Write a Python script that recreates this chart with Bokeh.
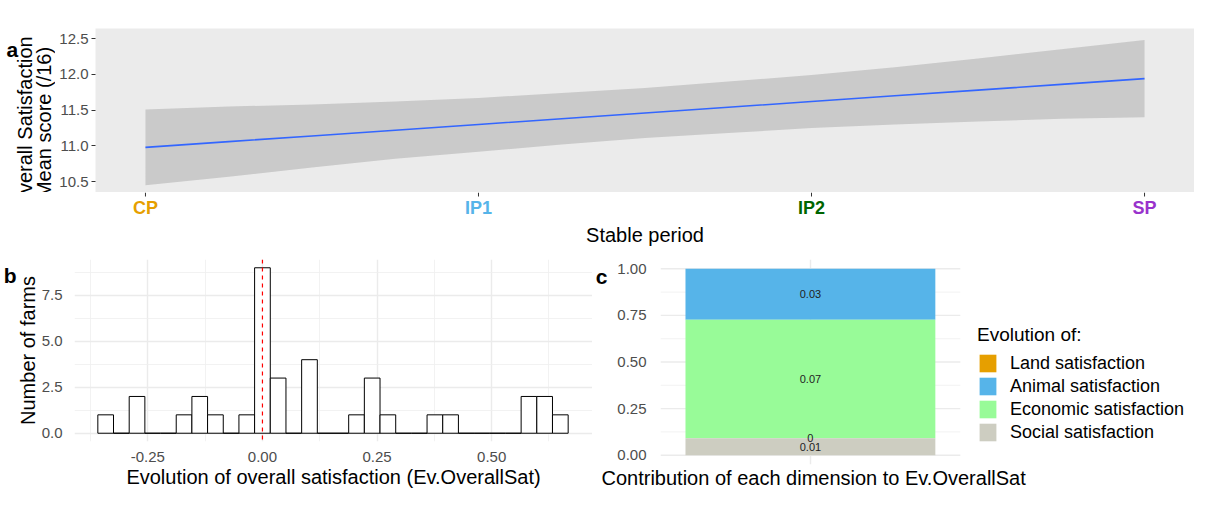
import numpy as np
from bokeh.plotting import figure
from bokeh.models import (Range1d, FixedTicker, Span, Legend, LegendItem, Title,
                          NumeralTickFormatter, LinearAxis, CustomJSTickFormatter)
from bokeh.core.properties import value
from bokeh.layouts import column, row
from bokeh.embed import file_html
from bokeh.resources import INLINE

FONT = "Liberation Sans"

# ---------------- data ----------------
# panel a : smoothed overall satisfaction by stable period
periods = ["CP", "IP1", "IP2", "SP"]
period_colors = ["#E69F00", "#56B4E9", "#006400", "#9932CC"]
smooth_x = [1.0, 1.25, 1.5, 1.75, 2.0, 2.25, 2.5, 2.75, 3.0, 3.25, 3.5, 3.75, 4.0]
smooth_fit = [10.98, 11.06, 11.14, 11.22, 11.30, 11.38, 11.46, 11.54, 11.62, 11.70, 11.78, 11.86, 11.94]
smooth_lo = [10.45, 10.57, 10.70, 10.82, 10.92, 11.02, 11.11, 11.18, 11.25, 11.30, 11.34, 11.38, 11.40]
smooth_hi = [11.51, 11.55, 11.58, 11.62, 11.67, 11.74, 11.81, 11.90, 11.99, 12.10, 12.22, 12.35, 12.48]
a_yticks = [10.5, 11.0, 11.5, 12.0, 12.5]
a_ytitle = ["Overall Satisfaction", "Mean score (/16)"]

# panel b : histogram of Ev.OverallSat (30 bins)
bin_width = 0.0342
first_bin_center = -0.342
hist_counts = [1, 0, 2, 0, 0, 1, 2, 1, 0, 1, 9, 3, 0, 4, 0, 0, 1, 3, 1, 0,
               0, 1, 1, 0, 0, 0, 0, 2, 2, 1]
b_xticks = [-0.25, 0.0, 0.25, 0.50]
b_xminor = [-0.375, -0.125, 0.125, 0.375, 0.625]
b_yticks = [0.0, 2.5, 5.0, 7.5]
b_yminor = [1.25, 3.75, 6.25, 8.75]

# panel c : contribution of each dimension
dimensions = ["Land satisfaction", "Animal satisfaction", "Economic satisfaction", "Social satisfaction"]
dim_colors = ["#E69F00", "#56B4E9", "#98FB98", "#CDCDC1"]
contrib = [0.0, 0.03, 0.07, 0.01]
contrib_labels = ["0", "0.03", "0.07", "0.01"]
c_yticks = [0.0, 0.25, 0.50, 0.75, 1.00]
c_yminor = [0.125, 0.375, 0.625, 0.875]

TICK_COL = "#4D4D4D"
GRID_MAJ = "#EBEBEB"
GRID_MIN = "#EFEFEF"


def style_axis(ax, size="15px"):
    ax.major_label_text_font = FONT
    ax.major_label_text_font_size = size
    ax.major_label_text_color = TICK_COL
    ax.axis_label_text_font = FONT
    ax.axis_label_text_font_size = "20px"
    ax.axis_label_text_font_style = "normal"
    ax.axis_label_text_color = "#000000"


def letter_axis(p, txt, at, standoff):
    ax = LinearAxis(ticker=FixedTicker(ticks=[at]),
                    formatter=CustomJSTickFormatter(code="return '%s';" % txt),
                    axis_line_color=None, major_tick_line_color=None, minor_tick_line_color=None,
                    major_label_text_font=FONT, major_label_text_font_size="21px",
                    major_label_text_font_style="bold", major_label_text_color="#000000",
                    major_label_standoff=standoff)
    p.add_layout(ax, "left")


def style_grid(p):
    for g in (p.xgrid[0], p.ygrid[0]):
        g.grid_line_color = GRID_MAJ
        g.grid_line_width = 1.4
        g.minor_grid_line_color = GRID_MIN
        g.minor_grid_line_width = 0.8


# ---------------- panel a ----------------
AH = 192          # height of panel a row
AT = 28           # top border of panel a
LW = 55           # width of the title column left of panel a

# left column: panel letter and the two-line y-axis title
pl = figure(width=LW, height=AH, x_range=Range1d(0, LW), y_range=Range1d(0, AH),
            output_backend="svg", toolbar_location=None,
            x_axis_location=None, y_axis_location=None,
            min_border_left=0, min_border_right=0, min_border_top=0, min_border_bottom=0)
pl.outline_line_color = None
pl.grid.visible = False
mid_y = (AH - AT) / 2
pl.text(x=[24, 43], y=[mid_y, mid_y], text=a_ytitle, angle=np.pi / 2,
        text_font=value(FONT), text_font_size=value("20px"), text_color="#000000",
        text_align="center", text_baseline="middle")
pl.text(x=[6], y=[AH - 24], text=["a"], text_font=value(FONT), text_font_style="bold",
        text_font_size=value("21px"), text_color="#000000",
        text_align="left", text_baseline="alphabetic")

pa = figure(width=1194 - LW, height=AH, x_range=Range1d(0.85, 4.15), y_range=Range1d(10.35, 12.64),
            output_backend="svg", toolbar_location=None, x_axis_location=None,
            min_border_left=40, min_border_right=0, min_border_top=AT, min_border_bottom=0)
pa.background_fill_color = "#EBEBEB"
pa.border_fill_color = "#FFFFFF"
pa.outline_line_color = None
pa.grid.visible = False
pa.varea(x=smooth_x, y1=smooth_lo, y2=smooth_hi, fill_color="#999999", fill_alpha=0.4)
pa.line(smooth_x, smooth_fit, line_color="#3366FF", line_width=1.6)

ya = pa.yaxis[0]
ya.ticker = FixedTicker(ticks=a_yticks)
ya.formatter = NumeralTickFormatter(format="0.0")
style_axis(ya)
ya.axis_line_color = None
ya.major_tick_line_color = "#333333"
ya.major_tick_out = 4
ya.major_tick_in = 0
ya.minor_tick_line_color = None
ya.major_label_standoff = 3

# strip under panel a : ticks, coloured period labels and axis title
SH = 54
ps = figure(width=1194, height=SH, x_range=pa.x_range, y_range=Range1d(0, SH),
            output_backend="svg", toolbar_location=None,
            x_axis_location=None, y_axis_location=None,
            min_border_left=LW + 40, min_border_right=0, min_border_top=0, min_border_bottom=0)
ps.outline_line_color = None
ps.grid.visible = False
tick_x = [i + 1 for i in range(len(periods))]
ps.segment(x0=tick_x, y0=[SH] * len(tick_x), x1=tick_x, y1=[SH - 4] * len(tick_x),
           line_color="#333333", line_width=1)
ps.text(x=tick_x, y=[SH - 15] * len(tick_x), text=periods, text_color=period_colors,
        text_font=value(FONT), text_font_style="bold", text_font_size=value("18px"),
        text_align="center", text_baseline="middle")
ps.text(x=[(tick_x[0] + tick_x[-1]) / 2], y=[SH - 42], text=["Stable period"],
        text_font=value(FONT), text_font_size=value("20px"), text_color="#000000",
        text_align="center", text_baseline="middle")

# ---------------- panel b ----------------
centers = first_bin_center + bin_width * np.arange(len(hist_counts))
lefts = centers - bin_width / 2
rights = centers + bin_width / 2
pb = figure(width=592, height=244, x_range=Range1d(-0.41, 0.72), y_range=Range1d(-0.45, 9.45),
            output_backend="svg", toolbar_location=None,
            min_border_left=58, min_border_right=0, min_border_top=13, min_border_bottom=44)
pb.outline_line_color = None
style_grid(pb)
pb.quad(left=lefts, right=rights, bottom=np.zeros(len(hist_counts)), top=hist_counts,
        fill_color="#FFFFFF", line_color="#000000", line_width=1)
pb.add_layout(Span(location=0.0, dimension="height", line_color="#FF0000",
                   line_dash="4 4", line_width=1.2))
xb = pb.xaxis[0]
xb.ticker = FixedTicker(ticks=b_xticks, minor_ticks=b_xminor)
xb.formatter = NumeralTickFormatter(format="0.00")
yb = pb.yaxis[0]
yb.ticker = FixedTicker(ticks=b_yticks, minor_ticks=b_yminor)
yb.formatter = NumeralTickFormatter(format="0.0")
for ax in (xb, yb):
    style_axis(ax)
    ax.axis_line_color = None
    ax.major_tick_line_color = None
    ax.minor_tick_line_color = None
xb.major_label_standoff = 4
xb.axis_label = "Evolution of overall satisfaction (Ev.OverallSat)"
xb.axis_label_standoff = 1
yb.major_label_standoff = 6
yb.axis_label = "Number of farms"
yb.axis_label_standoff = 0
letter_axis(pb, "b", 8.6, -9)

# ---------------- panel c ----------------
total = sum(contrib)
frac = [v / total for v in contrib]
# bars stacked bottom -> top : social, economic, animal, land
bar_order = [3, 2, 1, 0]
bottoms, tops = {}, {}
acc = 0.0
for k in bar_order:
    bottoms[k] = acc
    acc += frac[k]
    tops[k] = acc
# text labels stacked bottom -> top : social, land, economic, animal
lab_order = [3, 0, 2, 1]
lab_y = {}
acc = 0.0
for k in lab_order:
    lab_y[k] = acc + frac[k] / 2
    acc += frac[k]

C_LEFT, C_PANEL, C_LEGEND = 57, 306, 239          # pixel widths: axis, panel, legend area
c_lo, c_hi = 0.4, 1.6                             # discrete axis extent of the panel
c_x_end = c_lo + (c_hi - c_lo) * (C_PANEL + C_LEGEND) / C_PANEL
pc = figure(width=C_LEFT + C_PANEL + C_LEGEND, height=244,
            x_range=Range1d(c_lo, c_x_end), y_range=Range1d(-0.05, 1.05),
            output_backend="svg", toolbar_location=None,
            min_border_left=C_LEFT, min_border_right=0, min_border_top=13, min_border_bottom=26)
pc.outline_line_color = None
pc.xgrid[0].ticker = FixedTicker(ticks=[1])
pc.xgrid[0].grid_line_color = GRID_MAJ
pc.xgrid[0].grid_line_width = 1.4
pc.ygrid.visible = False
pc.segment(x0=[c_lo] * len(c_yminor), x1=[c_hi] * len(c_yminor), y0=c_yminor, y1=c_yminor,
           line_color=GRID_MIN, line_width=0.8)
pc.segment(x0=[c_lo] * len(c_yticks), x1=[c_hi] * len(c_yticks), y0=c_yticks, y1=c_yticks,
           line_color=GRID_MAJ, line_width=1.4)
renderers = {}
for k in range(len(dimensions)):
    renderers[k] = pc.vbar(x=[1], width=1.0, bottom=[bottoms[k]], top=[tops[k]],
                           fill_color=dim_colors[k], line_color=None)
pc.text(x=[1] * len(contrib_labels), y=[lab_y[k] for k in range(len(contrib_labels))],
        text=contrib_labels, text_font=value(FONT), text_font_size=value("11px"),
        text_color="#222222", text_align="center", text_baseline="middle")

xc = pc.xaxis[0]
xc.ticker = FixedTicker(ticks=[])
yc = pc.yaxis[0]
yc.ticker = FixedTicker(ticks=c_yticks)
yc.formatter = NumeralTickFormatter(format="0.00")
for ax in (xc, yc):
    style_axis(ax)
    ax.axis_line_color = None
    ax.major_tick_line_color = None
    ax.minor_tick_line_color = None
xc.major_label_standoff = 0
yc.major_label_standoff = 8
letter_axis(pc, "c", 0.96, 1)
pc.add_layout(Title(text="Contribution of each dimension to Ev.OverallSat", align="left",
                    offset=-59, standoff=0, text_font=FONT, text_font_size="20px",
                    text_font_style="normal", text_color="#000000"), "below")

legend = Legend(items=[LegendItem(label=dimensions[k], renderers=[renderers[k]]) for k in range(4)],
                location=(C_LEGEND + C_PANEL - 228, 21), margin=0, padding=10, spacing=1,
                glyph_width=21, glyph_height=22, label_height=22, label_standoff=12,
                label_text_font=FONT, label_text_font_size="18px", label_text_color="#000000",
                title="Evolution of:", title_text_font=FONT, title_text_font_size="19px",
                title_text_font_style="normal", title_text_color="#000000", title_standoff=6,
                border_line_color=None, background_fill_alpha=0)
pc.add_layout(legend)

layout = column(row(pl, pa), ps, row(pb, column(pc)))
open("out.html", "w").write(file_html(layout, INLINE))
